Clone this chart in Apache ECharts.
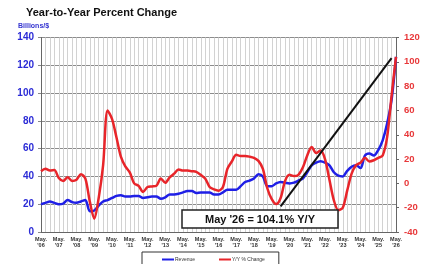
<!DOCTYPE html>
<html>
<head>
<meta charset="utf-8">
<script src="https://cdn.jsdelivr.net/npm/echarts@6/dist/echarts.min.js"></script>
<style>
    html, body { margin: 0; padding: 0; background: #fff; }
    #chart { width: 440px; height: 264px; }
</style>
</head>
<body>
<div id="chart"></div>
<script>
    // year tick labels, one per May
    const years = ["'06", "'07", "'08", "'09", "'10", "'11", "'12", "'13", "'14", "'15", "'16",
        "'17", "'18", "'19", "'20", "'21", "'22", "'23", "'24", "'25", "'26"];
    const quarterMonths = ['Aug.', 'Nov.', 'Feb.'];

    // quarterly, May '06 .. May '26 (billions $)
    const revenue = [
        20, 21, 22, 21, 20, 20.5, 23, 21.5, 21, 22, 23, 15, 15.5, 19, 22, 23,
        24.5, 26, 26.5, 25.5, 25.5, 26, 26, 24.5, 25, 25.5, 25.5, 24, 25, 27, 27, 27.5,
        28.5, 29.5, 29.5, 28, 28.5, 28.5, 28.5, 27, 27, 28.5, 30.5, 30.5, 30.5, 33, 36, 37,
        38.5, 41.5, 40, 33, 33, 35, 36, 35.5, 35, 35.5, 37, 38.5, 43, 48, 50, 51,
        50, 48, 43, 40.5, 40, 44, 47, 48, 46, 55, 56.5, 55, 59, 66, 78, 95, 126
    ];
    // year-over-year % change
    const yoyChange = [
        10, 12, 10.5, 11, 4.5, 2, 5, 2, 3, 7.5, 4, -15, -29, -12, 15, 60,
        53, 38, 22, 14, 9, 0, -2, -7, -3, -2.5, -2, 4, 0.5, 5, 8, 11.5,
        10.5, 10.5, 10, 9.5, 7, 4, -3, -5, -6, -3, 12, 18, 23.5, 22.5, 22.5, 22,
        21, 18.5, 12, -4, -13, -17, -12, 2, 7, 6, 7, 13, 23, 30, 25, 27,
        20, 3, -14, -22, -20, -6, 8, 15, 17, 21, 18, 19, 21, 23, 38, 72, 104.1
    ];

    const categories = [];
    years.forEach((y, i) => {
        categories.push('May.\n' + y);
        if (i < years.length - 1) {
            categories.push(quarterMonths[0] + ' ' + y);
            categories.push(quarterMonths[1] + ' ' + y);
            categories.push(quarterMonths[2] + ' ' + years[i + 1]);
        }
    });

    const font = '"Liberation Sans", Arial, sans-serif';
    const chart = echarts.init(document.getElementById('chart'));
    chart.setOption({
        animation: false,
        backgroundColor: '#fff',
        title: {
            text: 'Year-to-Year Percent Change',
            left: 21,
            top: 2,
            textStyle: { fontFamily: font, fontSize: 11, fontWeight: 'bold', color: '#111' }
        },
        grid: { left: 41, right: 44, top: 37.5, bottom: 32 },
        legend: {
            left: 142,
            top: 252,
            padding: [5, 14, 8, 20],
            borderColor: '#333',
            borderWidth: 1,
            itemWidth: 12,
            itemHeight: 2,
            itemGap: 24,
            icon: 'rect',
            textStyle: { fontFamily: font, fontSize: 5, color: '#333', padding: [0, 0, 0, -4] },
            data: ['Revenue', 'Y/Y % Change']
        },
        xAxis: {
            type: 'category',
            data: categories,
            boundaryGap: false,
            axisLine: { lineStyle: { color: '#666', width: 1 } },
            axisTick: { show: false },
            axisLabel: {
                interval: 3,
                margin: 4,
                fontFamily: font,
                fontSize: 5.5,
                lineHeight: 6,
                fontWeight: 'bold',
                color: '#333'
            },
            splitLine: { show: true, interval: 0, lineStyle: { color: '#d2d2d2', width: 1 } }
        },
        yAxis: [{
            type: 'value',
            min: 0,
            max: 140,
            interval: 20,
            axisLine: { show: true, lineStyle: { color: '#666' } },
            axisTick: { show: true, length: 3, lineStyle: { color: '#888' } },
            axisLabel: { margin: 7, fontFamily: font, fontSize: 10, fontWeight: 'bold', color: '#2b2bd6' },
            splitLine: { lineStyle: { color: '#8c8c8c', width: 1 } }
        }, {
            type: 'value',
            min: -40,
            max: 120,
            interval: 20,
            position: 'right',
            axisLine: { show: true, lineStyle: { color: '#666' } },
            axisTick: { show: true, length: 3, lineStyle: { color: '#666' } },
            axisLabel: { margin: 8, fontFamily: font, fontSize: 9.5, fontWeight: 'bold', color: '#e8383a' },
            splitLine: { show: false }
        }],
        series: [{
            name: 'Revenue',
            type: 'line',
            data: revenue,
            yAxisIndex: 0,
            symbol: 'none',
            smooth: 0.3,
            color: '#1f1fe6',
            lineStyle: { color: '#1f1fe6', width: 2.5 }
        }, {
            name: 'Y/Y % Change',
            type: 'line',
            data: yoyChange,
            yAxisIndex: 1,
            symbol: 'none',
            smooth: 0.3,
            color: '#e8252a',
            lineStyle: { color: '#e8252a', width: 2.5 },
            markLine: {
                silent: true,
                symbol: ['none', 'arrow'],
                symbolSize: [0, 8],
                label: { show: false },
                lineStyle: { color: '#111', width: 2, type: 'solid' },
                data: [[
                    { coord: [categories[54], -19] },
                    { coord: [categories[79], 103] }
                ]]
            }
        }],
        graphic: [{
            type: 'text',
            left: 18,
            top: 23,
            style: { text: 'Billions/$', fontFamily: font, fontSize: 7, fontWeight: 'bold', fill: '#3434d0' }
        }, {
            type: 'rect',
            z: 100,
            shape: { x: 182, y: 210, width: 156, height: 18 },
            style: { fill: '#ffffff', stroke: '#222', lineWidth: 1.5 }
        }, {
            type: 'text',
            z: 101,
            x: 260,
            y: 219.5,
            style: {
                text: "May '26 = 104.1% Y/Y",
                fontFamily: font,
                fontSize: 11,
                fontWeight: 'bold',
                fill: '#111',
                align: 'center',
                verticalAlign: 'middle'
            }
        }]
    });
</script>
</body>
</html>
